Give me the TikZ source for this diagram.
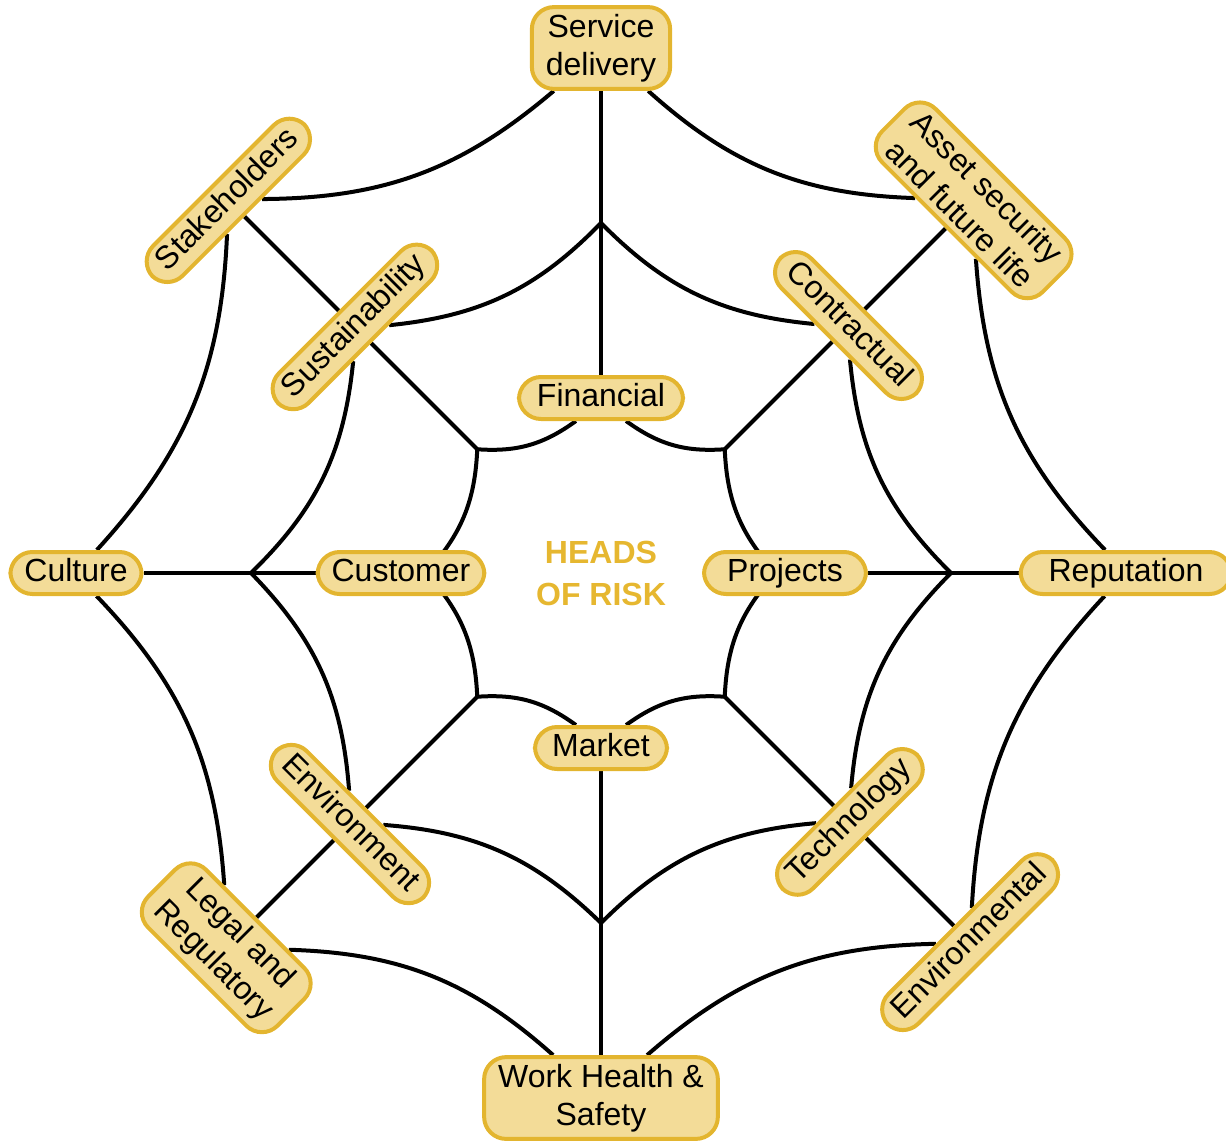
\documentclass[tikz,border=0pt]{standalone}
\usepackage{fontspec}
\setmainfont{Liberation Sans}
\usetikzlibrary{backgrounds}
\definecolor{bordo}{HTML}{E3B52F}
\definecolor{riempi}{HTML}{F3DC98}
\definecolor{oro}{HTML}{E6B730}
\tikzset{
  voce/.style={draw=bordo, fill=riempi, line width=2pt, rounded corners=11pt,
    inner xsep=7pt, inner ysep=3.5pt, font=\fontsize{16}{19}\selectfont, align=center},
  riga/.style={draw=bordo, fill=riempi, line width=2pt, rounded corners=11pt,
    inner xsep=7pt, inner ysep=3pt, font=\fontsize{16}{19}\selectfont,
    text height=11.5pt, text depth=3.5pt},
  filo/.style={line width=2pt, draw=black},
}
\begin{document}
\begin{tikzpicture}[x=0.5pt,y=0.5pt]
        % --- macro riutilizzabili -----------------------------------------
        \def\rest{525}   % raggio anello esterno
        \def\rmed{350}   % raggio anello medio
        \def\rint{175}   % raggio anello interno
        \def\curva{20}   % curvatura dei fili
        \useasboundingbox (-601,-569) rectangle (625,573);
        % --- titolo -------------------------------------------------------
        \node[font=\fontsize{16}{21}\selectfont\bfseries, text=oro, align=center]
          (titolo) at (0,0) {HEADS\\OF RISK};
        % --- anello esterno -----------------------------------------------
        \node[voce] (serv) at (90:\rest) {Service\\delivery};
        \node[voce, rotate=-45] (asset) at (45:527) {Asset security\\and future life};
        \node[riga, inner xsep=14pt] (repu) at (0:525) {Reputation};
        \node[riga, rotate=45] (envl) at (-45:522) {Environmental};
        \node[voce] (whs) at (-90:\rest) {Work Health \&\\Safety};
        \node[voce, rotate=-45] (legal) at (-135:530) {Legal and\\Regulatory};
        \node[riga] (cult) at (180:\rest) {Culture};
        \node[riga, rotate=45] (stake) at (135:527) {Stakeholders};
        % --- anello medio -------------------------------------------------
        \coordinate (m-top) at (90:\rmed);
        \node[riga, rotate=-45] (contr) at (45:\rmed) {Contractual};
        \coordinate (m-right) at (0:\rmed);
        \node[riga, rotate=45] (tech) at (-45:352) {Technology};
        \coordinate (m-bot) at (-90:\rmed);
        \node[riga, rotate=-45] (envt) at (-135:355) {Environment};
        \coordinate (m-left) at (180:\rmed);
        \node[riga, rotate=45] (sust) at (135:348) {Sustainability};
        % --- anello interno -----------------------------------------------
        \node[riga, minimum width=82pt] (fin) at (90:\rint) {Financial};
        \coordinate (i-ne) at (45:\rint);
        \coordinate (w-proj) at (0:\rint);
        \node[riga, minimum width=81pt] (proj) at (184,0) {Projects};
        \coordinate (i-se) at (-45:\rint);
        \node[riga, minimum width=66pt] (mkt) at (-90:\rint) {Market};
        \coordinate (i-sw) at (-135:\rint);
        \coordinate (w-cust) at (180:\rint);
        \node[riga] (cust) at (-200,0) {Customer};
        \coordinate (i-nw) at (135:\rint);
        % --- raggi e fili -------------------------------------------------
        \begin{scope}[on background layer={filo}]
          \draw[filo] (fin) -- (m-top) -- (serv);
          \draw[filo] (i-ne) -- (contr) -- (asset);
          \draw[filo] (proj) -- (m-right) -- (repu);
          \draw[filo] (i-se) -- (tech) -- (envl);
          \draw[filo] (mkt) -- (m-bot) -- (whs);
          \draw[filo] (i-sw) -- (envt) -- (legal);
          \draw[filo] (cust) -- (m-left) -- (cult);
          \draw[filo] (i-nw) -- (sust) -- (stake);
          \foreach \a/\b in {serv/asset, asset/repu, repu/envl, envl/whs,
                             whs/legal, legal/cult, cult/stake, stake/serv,
                             m-top/contr, contr/m-right, m-right/tech, tech/m-bot,
                             m-bot/envt, envt/m-left, m-left/sust, sust/m-top,
                             fin/i-ne, i-ne/w-proj, w-proj/i-se, i-se/mkt,
                             mkt/i-sw, i-sw/w-cust, w-cust/i-nw, i-nw/fin}
            \draw[filo] (\a) to[bend right=\curva] (\b);
        \end{scope}
\end{tikzpicture}
\end{document}
